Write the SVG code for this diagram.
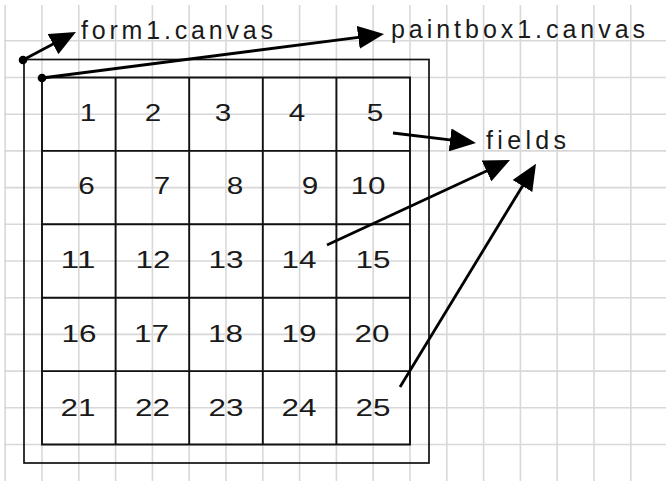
<svg xmlns="http://www.w3.org/2000/svg" width="666" height="481" viewBox="0 0 666 481">
<defs>
<style>
.grid line{stroke:#d8d8d8;stroke-width:1.6}
.cells{fill:none;stroke:#111;stroke-width:1.9}
.frame{fill:none;stroke:#111;stroke-width:1.7}
.lbl{font-family:"Liberation Sans",Arial,sans-serif;font-size:25px;fill:#1a1a1a}
.num{font-family:"Liberation Sans",Arial,sans-serif;font-size:24.5px;fill:#1a1a1a;text-anchor:middle}
.conn line{stroke:#000;stroke-width:2.8;marker-end:url(#ah)}
</style>
<marker id="ah" markerUnits="userSpaceOnUse" markerWidth="26" markerHeight="23" refX="6" refY="11.5" orient="auto">
<path d="M0,0 L26,11.5 L0,23 Z" fill="#000"/>
</marker>
</defs>
<rect width="666" height="481" fill="#fff"/>
<g class="grid" id="grid">
<line x1="5.2" y1="5" x2="5.2" y2="481"/>
<line x1="42" y1="5" x2="42" y2="481"/>
<line x1="78.8" y1="5" x2="78.8" y2="481"/>
<line x1="115.6" y1="5" x2="115.6" y2="481"/>
<line x1="152.4" y1="5" x2="152.4" y2="481"/>
<line x1="189.2" y1="5" x2="189.2" y2="481"/>
<line x1="226" y1="5" x2="226" y2="481"/>
<line x1="262.8" y1="5" x2="262.8" y2="481"/>
<line x1="299.6" y1="5" x2="299.6" y2="481"/>
<line x1="336.4" y1="5" x2="336.4" y2="481"/>
<line x1="373.2" y1="5" x2="373.2" y2="481"/>
<line x1="410" y1="5" x2="410" y2="481"/>
<line x1="446.8" y1="5" x2="446.8" y2="481"/>
<line x1="483.6" y1="5" x2="483.6" y2="481"/>
<line x1="520.4" y1="5" x2="520.4" y2="481"/>
<line x1="557.2" y1="5" x2="557.2" y2="481"/>
<line x1="594" y1="5" x2="594" y2="481"/>
<line x1="630.8" y1="5" x2="630.8" y2="481"/>
<line x1="4" y1="40.8" x2="666" y2="40.8"/>
<line x1="4" y1="77.5" x2="666" y2="77.5"/>
<line x1="4" y1="114.2" x2="666" y2="114.2"/>
<line x1="4" y1="150.9" x2="666" y2="150.9"/>
<line x1="4" y1="187.6" x2="666" y2="187.6"/>
<line x1="4" y1="224.3" x2="666" y2="224.3"/>
<line x1="4" y1="261" x2="666" y2="261"/>
<line x1="4" y1="297.7" x2="666" y2="297.7"/>
<line x1="4" y1="334.4" x2="666" y2="334.4"/>
<line x1="4" y1="371.1" x2="666" y2="371.1"/>
<line x1="4" y1="407.8" x2="666" y2="407.8"/>
<line x1="4" y1="444.5" x2="666" y2="444.5"/>
</g>
<g id="form1">
<rect class="frame" x="24" y="59.5" width="405" height="403.5"/>
<circle cx="23" cy="60" r="4.3" fill="#000"/>
<text class="lbl" x="81" y="38.5" textLength="192">form1.canvas</text>
</g>
<g id="paintbox1">
<path class="cells" d="M42,77.5 H410 V444.5 H42 Z M115.6,77.5 V444.5 M189.2,77.5 V444.5 M262.8,77.5 V444.5 M336.4,77.5 V444.5 M42,150.9 H410 M42,224.3 H410 M42,297.7 H410 M42,371.1 H410"/>
<circle cx="42" cy="78" r="4.3" fill="#000"/>
<text class="lbl" x="391" y="38" textLength="254">paintbox1.canvas</text>
</g>
<g id="fields">
<text class="lbl" x="486" y="148.5" textLength="80">fields</text>
</g>
<g id="numbers">
<text class="num" x="88" y="120.5" textLength="16.5" lengthAdjust="spacingAndGlyphs">1</text>
<text class="num" x="153" y="120.5" textLength="16.5" lengthAdjust="spacingAndGlyphs">2</text>
<text class="num" x="223" y="120.5" textLength="16.5" lengthAdjust="spacingAndGlyphs">3</text>
<text class="num" x="297" y="120.5" textLength="16.5" lengthAdjust="spacingAndGlyphs">4</text>
<text class="num" x="375" y="120.5" textLength="16.5" lengthAdjust="spacingAndGlyphs">5</text>
<text class="num" x="86.5" y="193.5" textLength="16.5" lengthAdjust="spacingAndGlyphs">6</text>
<text class="num" x="162" y="193.5" textLength="16.5" lengthAdjust="spacingAndGlyphs">7</text>
<text class="num" x="235" y="193.5" textLength="16.5" lengthAdjust="spacingAndGlyphs">8</text>
<text class="num" x="310" y="193.5" textLength="16.5" lengthAdjust="spacingAndGlyphs">9</text>
<text class="num" x="368" y="193.5" textLength="35" lengthAdjust="spacingAndGlyphs">10</text>
<text class="num" x="78" y="267.5" textLength="35" lengthAdjust="spacingAndGlyphs">11</text>
<text class="num" x="153" y="267.5" textLength="35" lengthAdjust="spacingAndGlyphs">12</text>
<text class="num" x="226" y="267.5" textLength="35" lengthAdjust="spacingAndGlyphs">13</text>
<text class="num" x="299" y="267.5" textLength="35" lengthAdjust="spacingAndGlyphs">14</text>
<text class="num" x="373" y="267.5" textLength="35" lengthAdjust="spacingAndGlyphs">15</text>
<text class="num" x="79" y="342" textLength="35" lengthAdjust="spacingAndGlyphs">16</text>
<text class="num" x="151.5" y="342" textLength="35" lengthAdjust="spacingAndGlyphs">17</text>
<text class="num" x="225.5" y="342" textLength="35" lengthAdjust="spacingAndGlyphs">18</text>
<text class="num" x="299" y="342" textLength="35" lengthAdjust="spacingAndGlyphs">19</text>
<text class="num" x="372" y="342" textLength="35" lengthAdjust="spacingAndGlyphs">20</text>
<text class="num" x="78" y="415.5" textLength="35" lengthAdjust="spacingAndGlyphs">21</text>
<text class="num" x="152.5" y="415.5" textLength="35" lengthAdjust="spacingAndGlyphs">22</text>
<text class="num" x="226" y="415.5" textLength="35" lengthAdjust="spacingAndGlyphs">23</text>
<text class="num" x="299" y="415.5" textLength="35" lengthAdjust="spacingAndGlyphs">24</text>
<text class="num" x="373" y="415.5" textLength="35" lengthAdjust="spacingAndGlyphs">25</text>
</g>
<g class="conn" id="connectors">
<line x1="23" y1="60" x2="58.3" y2="41.3"/>
<line x1="42" y1="78" x2="364.2" y2="36.6"/>
<line x1="393" y1="133" x2="456.1" y2="140.6"/>
<line x1="327" y1="245" x2="491.9" y2="168.4"/>
<line x1="400" y1="387" x2="525.6" y2="180.9"/>
</g>
</svg>
